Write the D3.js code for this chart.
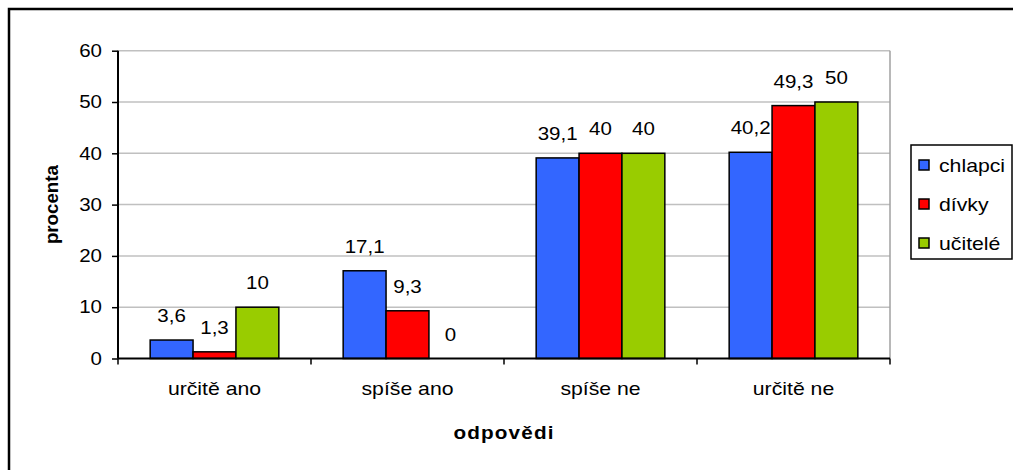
<!DOCTYPE html>
<html><head><meta charset="utf-8">
<script src="https://cdn.jsdelivr.net/npm/d3@7"></script>
<style>body{margin:0;background:#fff}svg{display:block}text{font-family:"Liberation Sans",Arial,sans-serif}</style>
</head><body>
<svg id="c" width="1013" height="470"></svg>
<script>
const categories = ["určitě ano", "spíše ano", "spíše ne", "určitě ne"];
const seriesNames = ["chlapci", "dívky", "učitelé"];
const chlapci = [3.6, 17.1, 39.1, 40.2];
const divky = [1.3, 9.3, 40, 49.3];
const ucitele = [10, 0, 40, 50];
const yTicks = [0, 10, 20, 30, 40, 50, 60];
const colors = ["#3366FF", "#FF0000", "#99CC00"];
const seriesValues = [chlapci, divky, ucitele];

const svg = d3.select("#c");
const fs = 18;
const K = 1.18;
function stretch(sel, k) {
  sel.each(function() {
    const t = d3.select(this);
    const x = +t.attr("x") || 0, y = +t.attr("y") || 0;
    t.attr("x", 0).attr("y", 0).attr("transform", `translate(${x},${y}) scale(${k},1)`);
  });
}
// outer frame
svg.append("rect").attr("x", 9).attr("y", 9).attr("width", 1020).attr("height", 480)
  .attr("fill", "#fff").attr("stroke", "#000").attr("stroke-width", 2.5);

const L = 118, R = 890, T = 50.7, B = 358.5;
const x0 = d3.scaleBand().domain(categories).range([L, R]);
const y = d3.scaleLinear().domain([0, 60]).range([B, T]);

// gridlines
svg.append("g").selectAll("line").data(yTicks.filter(d => d > 0)).join("line")
  .attr("x1", L).attr("x2", R).attr("y1", d => y(d)).attr("y2", d => y(d))
  .attr("stroke", "#c0c0c0").attr("stroke-width", 1.5);
svg.append("line").attr("x1", R).attr("x2", R).attr("y1", T).attr("y2", B)
  .attr("stroke", "#a0a0a0").attr("stroke-width", 1.5);

// bars
const bw = x0.bandwidth() / 4.5;
const groups = svg.append("g");
seriesValues.forEach((vals, si) => {
  const data = vals.map((v, i) => ({v, c: categories[i]}));
  const bx = d => x0(d.c) + x0.bandwidth() / 2 - 1.5 * bw + si * bw;
  groups.selectAll(null).data(data).join("rect")
    .attr("x", bx)
    .attr("y", d => y(d.v))
    .attr("width", bw)
    .attr("height", d => y(0) - y(d.v))
    .attr("fill", colors[si]).attr("stroke", "#000").attr("stroke-width", d => d.v > 0 ? 1.5 : 0);
  const lbl = groups.selectAll(null).data(data).join("text")
    .attr("x", d => bx(d) + bw / 2)
    .attr("y", d => y(d.v) - 18)
    .attr("text-anchor", "middle").attr("font-size", fs)
    .text(d => String(d.v).replace(".", ","));
  stretch(lbl, 1.14);
});

// y axis
const yAxis = d3.axisLeft(y).tickValues(yTicks).tickSize(6).tickPadding(10);
const gy = svg.append("g").attr("transform", `translate(${L},0)`).call(yAxis);
gy.select(".domain").attr("stroke", "#000").attr("stroke-width", 2).attr("d", `M0,${T}V${B}`);
gy.selectAll(".tick line").attr("stroke", "#000").attr("stroke-width", 1.5);
gy.selectAll("text").attr("font-size", fs).attr("fill", "#000")
  .attr("font-family", '"Liberation Sans",Arial,sans-serif');
stretch(gy.selectAll("text"), 1.14);

// x axis
const xAxis = d3.axisBottom(x0).tickSize(0).tickPadding(24);
const gx = svg.append("g").attr("transform", `translate(0,${B})`).call(xAxis);
gx.select(".domain").attr("stroke", "#000").attr("stroke-width", 2).attr("d", `M${L},0H${R}`);
gx.selectAll("text").attr("font-size", fs).attr("fill", "#000")
  .attr("font-family", '"Liberation Sans",Arial,sans-serif');
stretch(gx.selectAll("text"), K);
const bounds = categories.map(c => x0(c)).concat([R]);
svg.append("g").selectAll("line").data(bounds).join("line")
  .attr("x1", d => d).attr("x2", d => d).attr("y1", B).attr("y2", B + 6)
  .attr("stroke", "#000").attr("stroke-width", 1.5);

// axis titles
const xt = svg.append("text").attr("x", (L + R) / 2).attr("y", 439).attr("text-anchor", "middle")
  .attr("font-size", fs).attr("font-weight", "bold").attr("letter-spacing", "1px").text("odpovědi");
stretch(xt, 1.15);
svg.append("text").attr("transform", `translate(58,${(T + B) / 2}) rotate(-90) scale(1.04,1)`)
  .attr("text-anchor", "middle").attr("font-size", fs).attr("font-weight", "bold")
  .text("procenta");

// legend
const lg = svg.append("g");
lg.append("rect").attr("x", 911).attr("y", 145).attr("width", 101).attr("height", 114)
  .attr("fill", "#fff").attr("stroke", "#000").attr("stroke-width", 1.5);
seriesNames.forEach((n, i) => {
  const cy = 166 + i * 39;
  lg.append("rect").attr("x", 919).attr("y", cy - 6).attr("width", 10).attr("height", 10)
    .attr("fill", colors[i]).attr("stroke", "#000").attr("stroke-width", 1.5);
  const t = lg.append("text").attr("x", 939).attr("y", cy + 6).attr("font-size", fs).text(n);
  stretch(t, K);
});
</script>
</body></html>
